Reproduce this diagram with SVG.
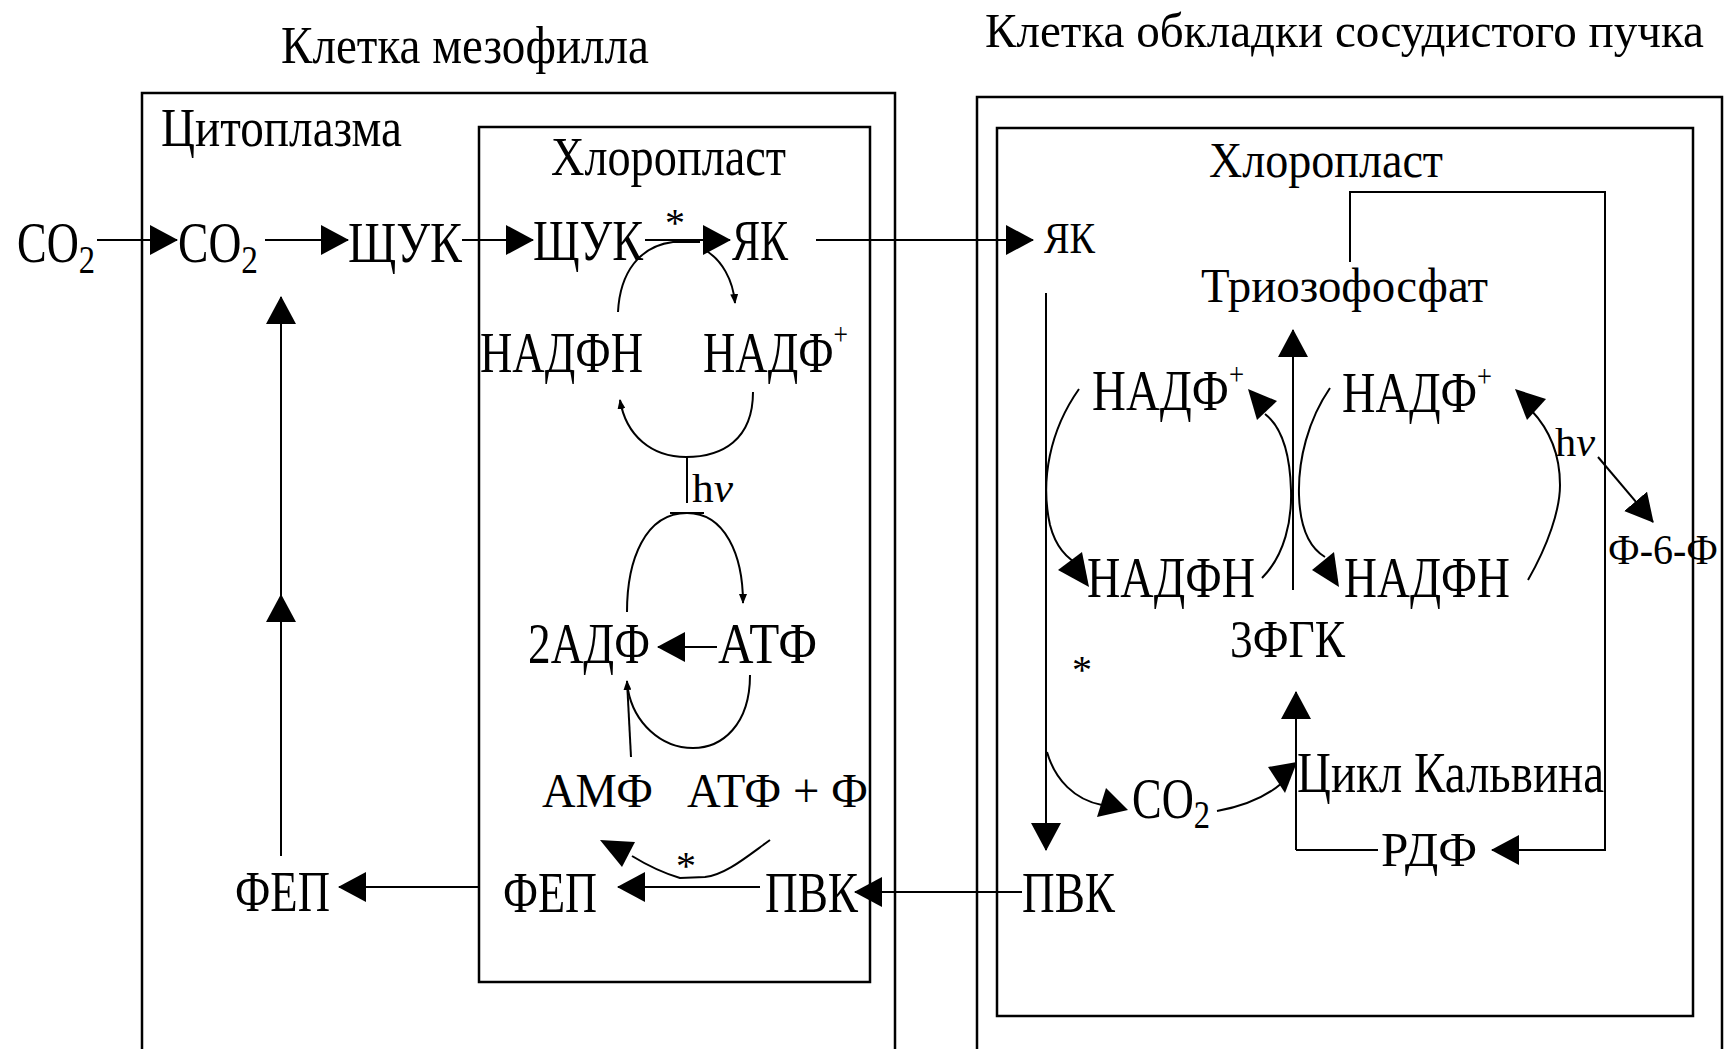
<svg xmlns="http://www.w3.org/2000/svg" width="1735" height="1049" viewBox="0 0 1735 1049">
<style>
.t{font-family:"Liberation Serif","Times New Roman",serif;fill:#000;}
.box{fill:none;stroke:#000;stroke-width:2.5;}
.ln{fill:none;stroke:#000;stroke-width:2;}
.ar{fill:none;stroke:#000;stroke-width:2;marker-end:url(#big);}
.as{fill:none;stroke:#000;stroke-width:2;marker-end:url(#sm);}
.ah{fill:#000;stroke:none;}
</style>
<defs>
<marker id="big" markerUnits="userSpaceOnUse" viewBox="0 0 28 30" markerWidth="28" markerHeight="30" refX="27" refY="15" orient="auto"><path d="M0,0 L28,15 L0,30 Z" fill="#000"/></marker>
<marker id="sm" markerUnits="userSpaceOnUse" viewBox="0 0 10 8" markerWidth="10" markerHeight="8" refX="9" refY="4" orient="auto"><path d="M0,0 L10,4 L0,8 Z" fill="#000"/></marker>
</defs>
<rect width="1735" height="1049" fill="#fff"/>

<g id="containers">
<rect id="mesophyll-cell" class="box" x="142" y="93" width="753" height="962"/>
<rect id="mesophyll-chloroplast" class="box" x="479" y="127" width="391" height="855"/>
<rect id="sheath-cell" class="box" x="977" y="97" width="745" height="958"/>
<rect id="sheath-chloroplast" class="box" x="997" y="128" width="696" height="888"/>
</g>

<g id="connectors">
<line class="ar" x1="97" y1="240" x2="177" y2="240"/>
<line class="ar" x1="265" y1="240" x2="348" y2="240"/>
<line class="ar" x1="462" y1="240" x2="533" y2="240"/>
<line class="ar" x1="645" y1="240" x2="730" y2="240"/>
<line class="ar" x1="816" y1="240" x2="1033" y2="240"/>
<line class="ar" x1="281" y1="856" x2="281" y2="595"/>
<line class="ar" x1="281" y1="622" x2="281" y2="297"/>
<line class="ar" x1="479" y1="887" x2="339" y2="887"/>
<line class="ar" x1="760" y1="887" x2="618" y2="887"/>
<line class="ar" x1="1022" y1="892" x2="855" y2="892"/>
<line class="ar" x1="717" y1="647" x2="658" y2="647"/>
<path class="ln" d="M618,312 C620,272 640,246 673,242 L700,242"/>
<path class="as" d="M705,250 C722,260 733,280 735,303"/>
<path class="as" d="M753,392 C753,440 722,457 686,457 C652,457 626,436 620,400"/>
<line class="ln" x1="687" y1="457" x2="687" y2="503"/>
<line class="ln" x1="670" y1="513" x2="704" y2="513"/>
<path class="as" d="M627,612 C627,560 645,513 687,513 C725,513 743,555 743,603"/>
<path class="ln" d="M750,675 C750,725 722,748 693,748 C660,748 634,722 628,690"/>
<line class="as" x1="631" y1="757" x2="627" y2="681"/>
<path class="ln" d="M770,840 C745,858 725,875 705,877 L680,878 C660,872 645,864 632,856"/>
<polygon class="ah" points="600,840 635,842 622,867"/>

<line class="ar" x1="1046" y1="293" x2="1046" y2="850"/>
<line class="ar" x1="1293" y1="590" x2="1293" y2="330"/>
<line class="ar" x1="1296" y1="850" x2="1296" y2="692"/>
<line class="ln" x1="1296" y1="850" x2="1378" y2="850"/>
<path class="ar" d="M1350,262 V192 H1605 V850 H1492"/>
<line class="ar" x1="1598" y1="457" x2="1653" y2="522"/>
<path class="ln" d="M1079,389 C1050,430 1040,480 1050,525 C1056,548 1068,560 1082,566"/>
<polygon class="ah" points="1058,570 1082,552 1089,587"/>
<path class="ln" d="M1262,578 C1285,555 1292,520 1291,490 C1290,455 1283,428 1265,414"/>
<polygon class="ah" points="1248,389 1277,401 1257,420"/>
<path class="ln" d="M1330,388 C1308,420 1298,460 1299,495 C1300,530 1310,548 1325,557"/>
<polygon class="ah" points="1312,570 1334,552 1339,587"/>
<path class="ln" d="M1528,580 C1548,545 1560,510 1560,485 C1560,455 1550,430 1531,410"/>
<polygon class="ah" points="1515,389 1546,399 1527,420"/>
<path class="ln" d="M1047,752 C1055,780 1075,800 1102,805"/>
<polygon class="ah" points="1097,817 1106,788 1128,810"/>
<path class="ln" d="M1217,811 C1245,806 1268,795 1282,783"/>
<polygon class="ah" points="1268,767 1297,762 1285,793"/>
</g>

<g id="labels">
<g id="title-mesophyll"><text class="t" x="281" y="63" font-size="52" textLength="368" lengthAdjust="spacingAndGlyphs">Клетка мезофилла</text></g>
<g id="title-sheath"><text class="t" x="985" y="47" font-size="49" textLength="719" lengthAdjust="spacingAndGlyphs">Клетка обкладки сосудистого пучка</text></g>
<g id="label-cytoplasm"><text class="t" x="161" y="146" font-size="54" textLength="241" lengthAdjust="spacingAndGlyphs">Цитоплазма</text></g>
<g id="label-chloroplast-left"><text class="t" x="551" y="175" font-size="55" textLength="235" lengthAdjust="spacingAndGlyphs">Хлоропласт</text></g>
<g id="label-chloroplast-right"><text class="t" x="1209" y="177" font-size="50" textLength="234" lengthAdjust="spacingAndGlyphs">Хлоропласт</text></g>
</g>

<g id="node-co2-outside"><text class="t" x="17" y="262" font-size="56" textLength="78" lengthAdjust="spacingAndGlyphs">CO<tspan dy="11" font-size="41">2</tspan></text></g>
<g id="node-co2-cyt"><text class="t" x="178" y="262" font-size="56" textLength="80" lengthAdjust="spacingAndGlyphs">CO<tspan dy="11" font-size="41">2</tspan></text></g>
<g id="node-shchuk-cyt"><text class="t" x="348" y="262" font-size="56" textLength="114" lengthAdjust="spacingAndGlyphs">ЩУК</text></g>
<g id="node-shchuk-chl"><text class="t" x="533" y="260" font-size="56" textLength="110" lengthAdjust="spacingAndGlyphs">ЩУК</text></g>
<g id="node-star-1"><text class="t" x="675" y="236" font-size="40" text-anchor="middle">*</text></g>
<g id="node-yak-chl"><text class="t" x="732" y="260" font-size="56" textLength="56" lengthAdjust="spacingAndGlyphs">ЯК</text></g>
<g id="node-nadph-l"><text class="t" x="480" y="372" font-size="56" textLength="163" lengthAdjust="spacingAndGlyphs">НАДФН</text></g>
<g id="node-nadp-l"><text class="t" x="703" y="372" font-size="56" textLength="145" lengthAdjust="spacingAndGlyphs">НАДФ<tspan dy="-27" font-size="32">+</tspan></text></g>
<g id="node-hv-l"><text class="t" x="692" y="502" font-size="39" textLength="41" lengthAdjust="spacingAndGlyphs">h<tspan font-style="italic">v</tspan></text></g>
<g id="node-2adp"><text class="t" x="528" y="663" font-size="56" textLength="122" lengthAdjust="spacingAndGlyphs">2АДФ</text></g>
<g id="node-atp"><text class="t" x="718" y="663" font-size="56" textLength="99" lengthAdjust="spacingAndGlyphs">АТФ</text></g>
<g id="node-amp"><text class="t" x="542" y="807" font-size="48" textLength="111" lengthAdjust="spacingAndGlyphs">АМФ</text></g>
<g id="node-atp-p"><text class="t" x="687" y="807" font-size="48" textLength="181" lengthAdjust="spacingAndGlyphs">АТФ + Ф</text></g>
<g id="node-star-2"><text class="t" x="686" y="879" font-size="40" text-anchor="middle">*</text></g>
<g id="node-fep-cyt"><text class="t" x="235" y="911" font-size="56" textLength="95" lengthAdjust="spacingAndGlyphs">ФЕП</text></g>
<g id="node-fep-chl"><text class="t" x="503" y="912" font-size="56" textLength="94" lengthAdjust="spacingAndGlyphs">ФЕП</text></g>
<g id="node-pvk-chl"><text class="t" x="765" y="912" font-size="56" textLength="93" lengthAdjust="spacingAndGlyphs">ПВК</text></g>

<g id="node-yak-r"><text class="t" x="1044" y="253" font-size="45" textLength="51" lengthAdjust="spacingAndGlyphs">ЯК</text></g>
<g id="node-triose"><text class="t" x="1201" y="302" font-size="49" textLength="287" lengthAdjust="spacingAndGlyphs">Триозофосфат</text></g>
<g id="node-nadp-r1"><text class="t" x="1092" y="410" font-size="56" textLength="152" lengthAdjust="spacingAndGlyphs">НАДФ<tspan dy="-25" font-size="32">+</tspan></text></g>
<g id="node-nadp-r2"><text class="t" x="1342" y="412" font-size="56" textLength="150" lengthAdjust="spacingAndGlyphs">НАДФ<tspan dy="-25" font-size="32">+</tspan></text></g>
<g id="node-hv-r"><text class="t" x="1555" y="456" font-size="39" textLength="40" lengthAdjust="spacingAndGlyphs">h<tspan font-style="italic">v</tspan></text></g>
<g id="node-f6f"><text class="t" x="1608" y="564" font-size="43" textLength="110" lengthAdjust="spacingAndGlyphs">Ф-6-Ф</text></g>
<g id="node-nadph-r1"><text class="t" x="1087" y="597" font-size="56" textLength="168" lengthAdjust="spacingAndGlyphs">НАДФН</text></g>
<g id="node-nadph-r2"><text class="t" x="1344" y="597" font-size="56" textLength="166" lengthAdjust="spacingAndGlyphs">НАДФН</text></g>
<g id="node-3pga"><text class="t" x="1230" y="657" font-size="53" textLength="115" lengthAdjust="spacingAndGlyphs">3ФГК</text></g>
<g id="node-star-3"><text class="t" x="1082" y="683" font-size="40" text-anchor="middle">*</text></g>
<g id="node-calvin"><text class="t" x="1297" y="792" font-size="56" textLength="307" lengthAdjust="spacingAndGlyphs">Цикл Кальвина</text></g>
<g id="node-co2-r"><text class="t" x="1132" y="818" font-size="56" textLength="78" lengthAdjust="spacingAndGlyphs">CO<tspan dy="10" font-size="41">2</tspan></text></g>
<g id="node-rdp"><text class="t" x="1381" y="866" font-size="48" textLength="96" lengthAdjust="spacingAndGlyphs">РДФ</text></g>
<g id="node-pvk-r"><text class="t" x="1022" y="912" font-size="56" textLength="93" lengthAdjust="spacingAndGlyphs">ПВК</text></g>
</svg>
